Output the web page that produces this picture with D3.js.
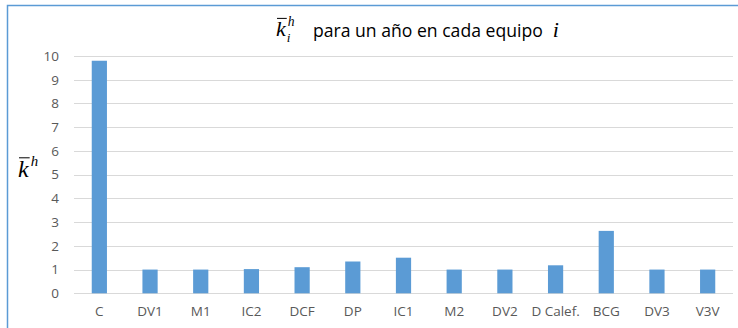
<!DOCTYPE html>
<html>
<head>
<meta charset="utf-8">
<script src="https://cdn.jsdelivr.net/npm/d3@7"></script>
<style>
  html, body { margin: 0; padding: 0; background: #fff; }
  svg { display: block; }
</style>
</head>
<body>
<svg id="chart" width="738" height="328"></svg>
<script>
// Equipment labels and mean k^h value per equipment over one year
const categories = ["C", "DV1", "M1", "IC2", "DCF", "DP", "IC1", "M2", "DV2", "D Calef.", "BCG", "DV3", "V3V"];
const values = [9.8, 1.0, 1.0, 1.02, 1.1, 1.34, 1.5, 1.0, 1.0, 1.18, 2.63, 1.0, 1.0];
const yTicks = [0, 1, 2, 3, 4, 5, 6, 7, 8, 9, 10];

const W = 738, H = 328;
const margin = { left: 74, right: 5, top: 56, bottom: 34.7 };
const textColor = "#595959";
const font = "'Open Sans', 'Noto Sans', sans-serif";
const mathFont = "'Liberation Serif', 'DejaVu Serif', serif";

const svg = d3.select("#chart");
svg.append("rect").attr("width", W).attr("height", H).attr("fill", "#fff");

// chart frame (runs off the right and bottom edges)
svg.append("rect")
  .attr("x", 7.5).attr("y", 5.5)
  .attr("width", W + 10).attr("height", H + 10)
  .attr("fill", "none").attr("stroke", "#5b9bd5").attr("stroke-width", 1.5);

const x = d3.scaleBand()
  .domain(categories)
  .range([margin.left, W - margin.right])
  .paddingInner(0.7).paddingOuter(0.35);

const y = d3.scaleLinear()
  .domain([0, 10])
  .range([H - margin.bottom, margin.top]);

// horizontal gridlines
svg.append("g")
  .selectAll("line")
  .data(yTicks)
  .join("line")
  .attr("x1", margin.left).attr("x2", W - margin.right)
  .attr("y1", d => Math.round(y(d)) + 0.5).attr("y2", d => Math.round(y(d)) + 0.5)
  .attr("stroke", "#d9d9d9").attr("stroke-width", 1);

// y-axis tick labels
const yAxis = d3.axisLeft(y).tickValues(yTicks).tickSize(0).tickPadding(0);
svg.append("g")
  .attr("transform", `translate(${margin.left - 15},0)`)
  .call(yAxis)
  .call(g => g.select(".domain").remove())
  .selectAll("text")
  .attr("font-family", font).attr("font-size", 13.5).attr("fill", textColor);

// bars
svg.append("g")
  .selectAll("rect")
  .data(values)
  .join("rect")
  .attr("x", (d, i) => x(categories[i]))
  .attr("width", x.bandwidth())
  .attr("y", d => y(d))
  .attr("height", d => y(0) - y(d))
  .attr("fill", "#5b9bd5");

// x-axis category labels
const xAxis = d3.axisBottom(x).tickSize(0).tickPadding(0);
svg.append("g")
  .attr("transform", `translate(0,${H - margin.bottom + 13})`)
  .call(xAxis)
  .call(g => g.select(".domain").remove())
  .selectAll("text")
  .attr("font-family", font).attr("font-size", 13.5).attr("fill", textColor);

// k with bar, optional sub and sup scripts
function mathSymbol(g, x0, base, size, sub, sup) {
  const k = g.append("text")
    .attr("x", x0).attr("y", base)
    .attr("font-family", mathFont).attr("font-style", "italic")
    .attr("font-size", size).attr("fill", "#000").text("k");
  const kw = k.node().getComputedTextLength();
  g.append("line")
    .attr("x1", x0 + 1).attr("x2", x0 + kw + 1)
    .attr("y1", base - size * 0.8).attr("y2", base - size * 0.8)
    .attr("stroke", "#000").attr("stroke-width", 1);
  if (sup) {
    g.append("text")
      .attr("x", x0 + kw + 2).attr("y", base - size * 0.45)
      .attr("font-family", mathFont).attr("font-style", "italic")
      .attr("font-size", size * 0.62).attr("fill", "#000").text(sup);
  }
  if (sub) {
    g.append("text")
      .attr("x", x0 + kw + 1).attr("y", base + size * 0.26)
      .attr("font-family", mathFont).attr("font-style", "italic")
      .attr("font-size", size * 0.6).attr("fill", "#000").text(sub);
  }
}

// title
const title = svg.append("g");
mathSymbol(title, 276, 36, 22, "i", "h");
const titleText = title.append("text")
  .attr("x", 313).attr("y", 37)
  .attr("font-family", font).attr("font-size", 17.6).attr("fill", "#000")
  .text("para un año en cada equipo");
const titleEnd = 313 + titleText.node().getComputedTextLength();
title.append("text")
  .attr("x", titleEnd + 10).attr("y", 37)
  .attr("font-family", mathFont).attr("font-style", "italic")
  .attr("font-size", 22).attr("fill", "#000").text("i");

// y-axis title
const ylab = svg.append("g");
mathSymbol(ylab, 18, 177, 24, null, "h");
</script>
</body>
</html>
